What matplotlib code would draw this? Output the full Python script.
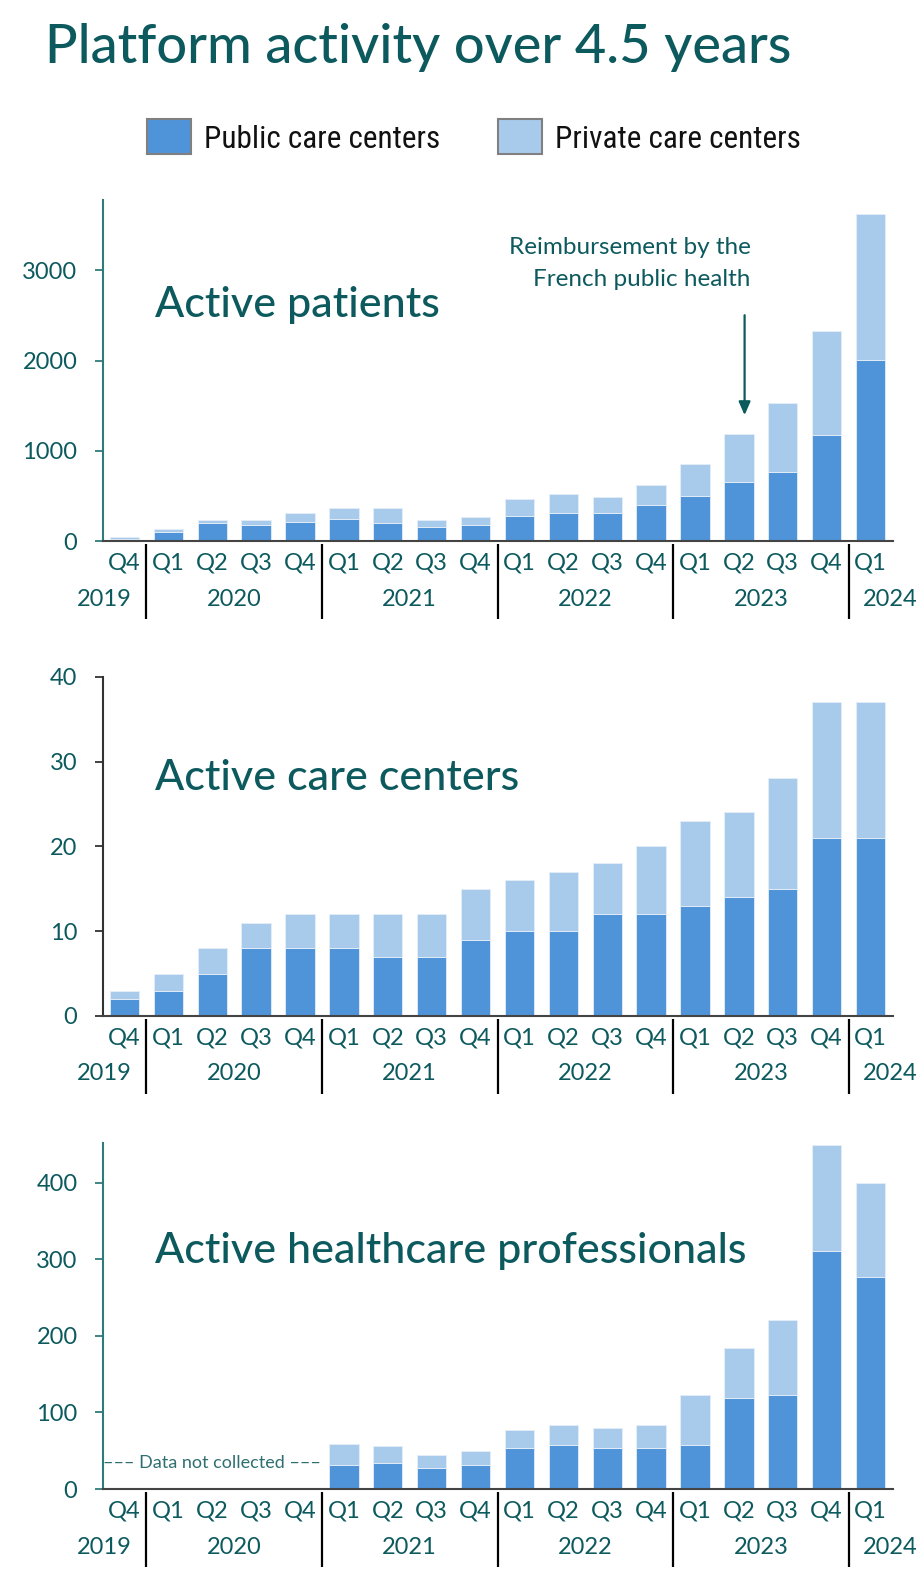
import matplotlib
matplotlib.use("Agg")
import matplotlib.pyplot as plt
from matplotlib.patches import Rectangle

plt.rcParams['font.family'] = ['Lato', 'DejaVu Sans']

# ---- data ----
quarters = ["Q4", "Q1", "Q2", "Q3", "Q4", "Q1", "Q2", "Q3", "Q4",
            "Q1", "Q2", "Q3", "Q4", "Q1", "Q2", "Q3", "Q4", "Q1"]
years = ["2019", "2020", "2021", "2022", "2023", "2024"]
year_pos = [-0.45, 2.5, 6.5, 10.5, 14.5, 17.45]
year_breaks = [0.5, 4.5, 8.5, 12.5, 16.5]

patients_public = [20, 100, 200, 180, 215, 245, 205, 150, 180,
                   280, 315, 315, 400, 500, 655, 765, 1175, 2010]
patients_private = [20, 35, 30, 50, 90, 120, 160, 80, 85,
                    190, 205, 170, 220, 355, 535, 765, 1155, 1615]

centers_public = [2, 3, 5, 8, 8, 8, 7, 7, 9, 10, 10, 12, 12, 13, 14, 15, 21, 21]
centers_private = [1, 2, 3, 3, 4, 4, 5, 5, 6, 6, 7, 6, 8, 10, 10, 13, 16, 16]

pros_public = [0, 0, 0, 0, 0, 31, 34, 28, 31,
               53, 57, 53, 54, 57, 119, 123, 311, 277]
pros_private = [0, 0, 0, 0, 0, 28, 22, 16, 18,
                24, 26, 26, 29, 66, 65, 98, 138, 123]

panel_titles = ["Active patients", "Active care centers",
                "Active healthcare professionals"]

C_PUBLIC = "#4f94d8"
C_PRIVATE = "#a8cbec"
TEAL = "#0d5a5e"
AXIS_TEAL = "#2f7b7c"
TICK_FS = 17

W, H = 923, 1572
fig = plt.figure(figsize=(W / 100, H / 100), dpi=100)

fig.text(45 / W, 1 - 63 / H, "Platform activity over 4.5 years", fontsize=39,
         fontweight="medium", color=TEAL, ha="left", va="baseline")

# legend (drawn by hand)
leg_font = ['Roboto Condensed', 'Liberation Sans Narrow', 'Roboto', 'DejaVu Sans']
for x0, col, lab in [(147, C_PUBLIC, "Public care centers"),
                     (498, C_PRIVATE, "Private care centers")]:
    fig.patches.append(Rectangle((x0 / W, 1 - 154 / H), 44 / W, 35 / H,
                                 transform=fig.transFigure, facecolor=col,
                                 edgecolor="#808080", linewidth=1.5))
    fig.text((x0 + 57) / W, 1 - 148 / H, lab, fontsize=22.5, family=leg_font,
             color="#111111", ha="left", va="baseline")

panels = [
    # bottom_px, top_px, public, private, ymax, yticks, spine colour, label baseline
    (541, 200, patients_public, patients_private, 3780, [0, 1000, 2000, 3000],
     AXIS_TEAL, 316.7),
    (1016, 676.7, centers_public, centers_private, 40, [0, 10, 20, 30, 40],
     "#333333", 790),
    (1489, 1142.7, pros_public, pros_private, 452, [0, 100, 200, 300, 400],
     AXIS_TEAL, 1263),
]

x = list(range(len(quarters)))
axes = []
for (bot, top, pub, priv, ymax, yt, scol, lb), label in zip(panels, panel_titles):
    hpx = bot - top
    ax = fig.add_axes([102.5 / W, 1 - bot / H, 790 / W, hpx / H])
    axes.append(ax)
    ax.bar(x, pub, width=0.67, color=C_PUBLIC, edgecolor="#e6eef8", linewidth=0.6)
    ax.bar(x, priv, width=0.67, bottom=pub, color=C_PRIVATE,
           edgecolor="#e6eef8", linewidth=0.6)
    ax.set_xlim(-0.5, 17.5)
    ax.set_ylim(0, ymax)
    ax.set_yticks(yt)
    ax.tick_params(axis="y", length=6, width=1.3, color=scol, pad=12,
                   labelsize=TICK_FS, labelcolor=TEAL)
    ax.set_xticks(x)
    ax.set_xticklabels(quarters)
    ax.tick_params(axis="x", length=0, pad=8, labelsize=TICK_FS, labelcolor=TEAL)
    for s in ["top", "right"]:
        ax.spines[s].set_visible(False)
    ax.spines["left"].set_color(scol)
    ax.spines["left"].set_linewidth(1.5)
    ax.spines["bottom"].set_color("#444444")
    ax.spines["bottom"].set_linewidth(1.5)

    for yr, xp in zip(years, year_pos):
        ax.annotate(yr, xy=(xp, 0), xycoords=("data", "axes fraction"),
                    xytext=(0, -58 * 0.72), textcoords="offset points",
                    ha="center", va="center", fontsize=TICK_FS, color=TEAL,
                    annotation_clip=False)
    for xb in year_breaks:
        ax.plot([xb, xb], [-3 / hpx, -78 / hpx], transform=ax.get_xaxis_transform(),
                color="black", linewidth=1.6, clip_on=False, solid_capstyle="butt")

    ax.text(52.5 / 790, (bot - lb) / hpx, label, transform=ax.transAxes,
            fontsize=31, fontweight="medium", color=TEAL, ha="left", va="baseline")

# annotation in the patients panel
ax0 = axes[0]
ax0.text(14.27, 3073, "Reimbursement by the\nFrench public health", ha="right",
         va="center", fontsize=17.5, color=TEAL, linespacing=1.65)
ax0.annotate("", xy=(14.13, 1395), xytext=(14.13, 2503),
             arrowprops=dict(arrowstyle="-|>,head_length=0.8,head_width=0.35",
                             color=TEAL, lw=1.6, shrinkA=0, shrinkB=0))

# data not collected note
axes[2].text(2.0, 34, "––– Data not collected –––", ha="center", va="center",
             fontsize=13, color="#2f6f70")

fig.savefig("out.png", dpi=100)
